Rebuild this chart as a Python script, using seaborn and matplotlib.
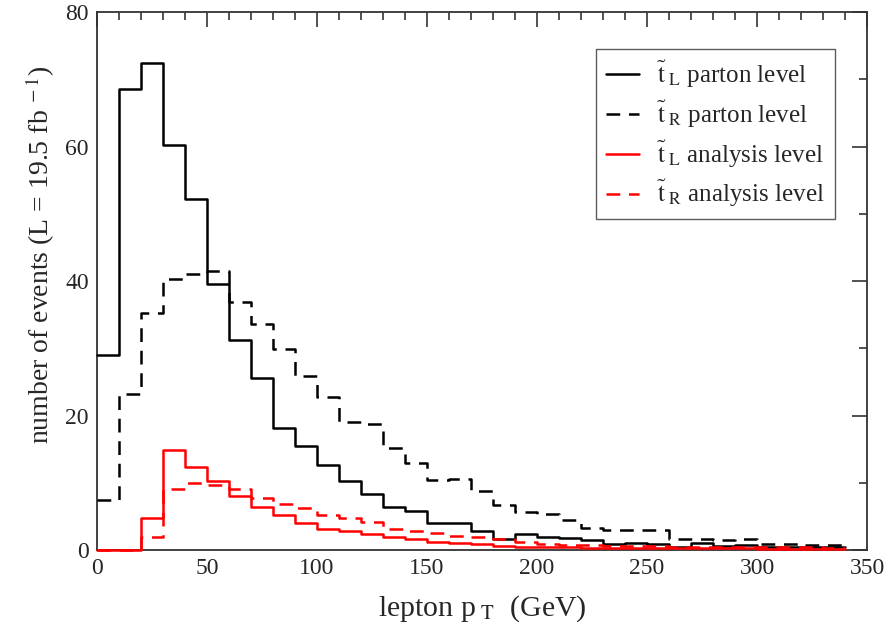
import numpy as np
import pandas as pd
import seaborn as sns
import matplotlib
matplotlib.use("Agg")
import matplotlib.pyplot as plt
from matplotlib.ticker import MultipleLocator

# ---- data (bin width 10 GeV, left edges 0..330) ----
bin_edges = list(range(0, 350, 10))
tl_parton = [29.0, 68.5, 72.5, 60.3, 52.2, 39.6, 31.2, 25.6, 18.2, 15.5, 12.7, 10.2,
             8.4, 6.4, 5.8, 4.0, 4.0, 2.9, 1.6, 2.4, 1.9, 1.8, 1.5, 0.9, 1.0, 0.9,
             0.5, 1.1, 0.6, 0.8, 0.5, 0.5, 0.4, 0.4]
tr_parton = [7.5, 23.2, 35.3, 40.3, 41.0, 41.5, 36.9, 33.6, 29.9, 25.9, 22.7, 19.1,
             18.8, 15.1, 13.0, 10.4, 10.6, 8.8, 6.7, 5.6, 5.3, 4.5, 3.3, 3.0, 3.0, 3.0,
             1.7, 1.7, 1.5, 1.7, 0.9, 0.9, 0.8, 0.8]
tl_analysis = [0.0, 0.0, 4.8, 14.9, 12.3, 10.2, 8.0, 6.4, 5.2, 4.0, 3.1, 2.8,
               2.4, 1.9, 1.6, 1.25, 1.0, 0.85, 0.65, 0.5, 0.4, 0.4, 0.35, 0.35, 0.3, 0.3,
               0.3, 0.3, 0.25, 0.25, 0.2, 0.2, 0.2, 0.2]
tr_analysis = [0.0, 0.0, 2.0, 9.1, 10.0, 9.6, 9.1, 7.7, 6.9, 6.3, 5.2, 4.8,
               4.2, 3.1, 2.9, 2.6, 2.1, 1.9, 1.6, 1.2, 0.9, 0.8, 0.7, 0.6, 0.6, 0.6,
               0.5, 0.5, 0.5, 0.4, 0.4, 0.4, 0.4, 0.3]
labels = [r"$\tilde{\mathrm{t}}_{\ \mathrm{L}}$ parton level",
          r"$\tilde{\mathrm{t}}_{\ \mathrm{R}}$ parton level",
          r"$\tilde{\mathrm{t}}_{\ \mathrm{L}}$ analysis level",
          r"$\tilde{\mathrm{t}}_{\ \mathrm{R}}$ analysis level"]
colors = ["black", "black", "#ff0000", "#ff0000"]
dashed = [False, True, False, True]
x_ticks = [0, 50, 100, 150, 200, 250, 300, 350]
y_ticks = [0, 20, 40, 60, 80]

sns.set_style("white")
plt.rcParams["font.family"] = ["Liberation Serif", "DejaVu Serif"]
plt.rcParams["mathtext.fontset"] = "stix"

fig = plt.figure(figsize=(8.86, 6.36), dpi=100)
ax = fig.add_axes([0.1095, 0.1352, 0.8691, 0.8458])

for vals, lab, col, dsh in zip([tl_parton, tr_parton, tl_analysis, tr_analysis],
                               labels, colors, dashed):
    df = pd.DataFrame({"x": bin_edges, "y": vals + [vals[-1]]})
    kw = dict(linestyle=(0, (5.5, 3.5))) if dsh else dict(linestyle="-")
    sns.lineplot(data=df, x="x", y="y", ax=ax, color=col, lw=1.8,
                 drawstyle="steps-post", estimator=None, label=lab,
                 clip_on=False, zorder=3, **kw)

ax.set_xlim(0, 350)
ax.set_ylim(0, 80)
ax.set_xticks(x_ticks)
ax.set_yticks(y_ticks)
ax.xaxis.set_minor_locator(MultipleLocator(10))
ax.yaxis.set_minor_locator(MultipleLocator(10))
ax.tick_params(axis="both", which="both", direction="in", top=True, right=True,
               color="#333333", labelsize=17, pad=6)
ax.tick_params(which="major", length=11, width=1.2)
ax.tick_params(which="minor", length=6, width=1.2)
for s in ax.spines.values():
    s.set_color("#333333")
    s.set_linewidth(1.3)
    s.set_zorder(2)

ax.set_xlabel(r"lepton p$_{\ \mathrm{T}}$  (GeV)", fontsize=21.5, labelpad=10)
ax.set_ylabel(r"number of events (L = 19.5 fb$^{\ -1}$)", fontsize=20)
ax.yaxis.set_label_coords(-0.052, 0.55)

leg = ax.legend(loc="upper right", bbox_to_anchor=(0.958, 0.932), fontsize=18,
                frameon=True, fancybox=False, edgecolor="#333333",
                handlelength=1.35, handletextpad=0.7, borderpad=0.4,
                labelspacing=0.35, borderaxespad=0)
leg.get_frame().set_linewidth(1.0)

fig.savefig("out.png", dpi=100)
